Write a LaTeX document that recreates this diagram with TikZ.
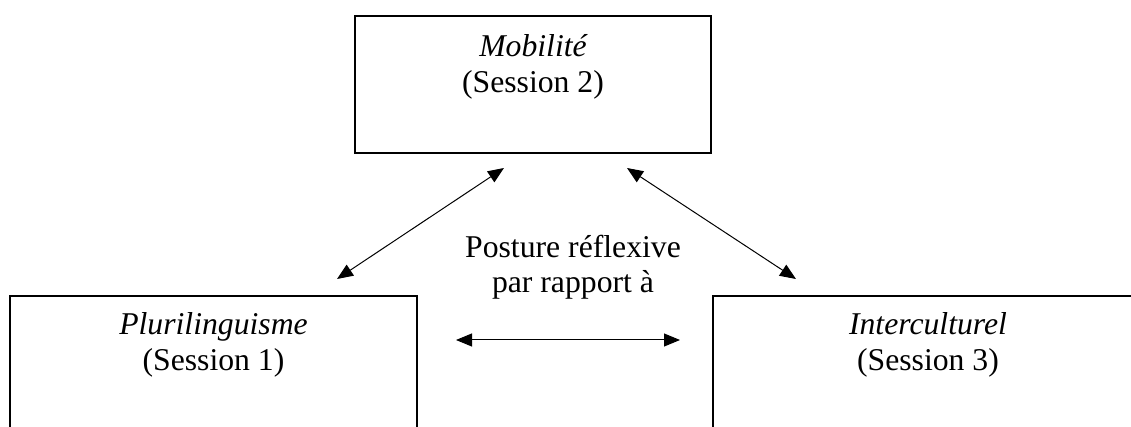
\documentclass[tikz,border=0pt]{standalone}
\usepackage{fontspec}
\setmainfont{Liberation Serif}
\usetikzlibrary{positioning, arrows.meta}

\begin{document}
\begin{tikzpicture}[x=0.5pt, y=-0.5pt,
	sessionbox/.style={draw, line width=0.75pt, inner sep=0pt},
	titre/.style={font=\fontsize{15.85}{17.5}\selectfont\itshape, inner sep=0pt, anchor=base},
	soustitre/.style={font=\fontsize{15.85}{17.5}\selectfont, inner sep=0pt, anchor=base},
	lien/.style={{Triangle[length=8pt,width=6.5pt]}-{Triangle[length=8pt,width=6.5pt]}, line width=0.5pt}]
		
		\useasboundingbox (0,0) rectangle (1131,427);
		\clip (0,0) rectangle (1131,427);
		
		% Boxes
		\node[sessionbox, minimum width=178pt, minimum height=68.5pt] (mob) at (533,84.5) {};
		\node[sessionbox, minimum width=203.5pt, minimum height=92pt] (plu) at (213.5,388) {};
		\node[sessionbox, minimum width=215pt, minimum height=92pt] (inter) at (928,388) {};
		
		% Labels
		\node[titre] (mobT) at ([yshift=-20.5pt]mob.north) {Mobilité};
		\node[soustitre] (mobS) at ([yshift=-18pt]mobT.base) {(Session 2)};
		\node[titre] (pluT) at ([yshift=-19.5pt]plu.north) {Plurilinguisme};
		\node[soustitre] (pluS) at ([yshift=-18pt]pluT.base) {(Session 1)};
		\node[titre] (interT) at ([yshift=-19.5pt]inter.north) {Interculturel};
		\node[soustitre] (interS) at ([yshift=-18pt]interT.base) {(Session 3)};
		
		\node[soustitre] (post) at (573,258) {Posture réflexive};
		\node[soustitre] (rap) at ([yshift=-17.5pt]post.base) {par rapport à};
		
		% Arrow ends
		\coordinate (a1) at (504,168);
		\coordinate (a2) at (337,279);
		\coordinate (b1) at (627,168);
		\coordinate (b2) at (796,279);
		\coordinate (c1) at (456,340);
		\coordinate (c2) at (680,340);
		
		\draw[lien] (a1) -- (a2);
		\draw[lien] (b1) -- (b2);
		\draw[lien] (c1) -- (c2);
		
	\end{tikzpicture}
\end{document}
